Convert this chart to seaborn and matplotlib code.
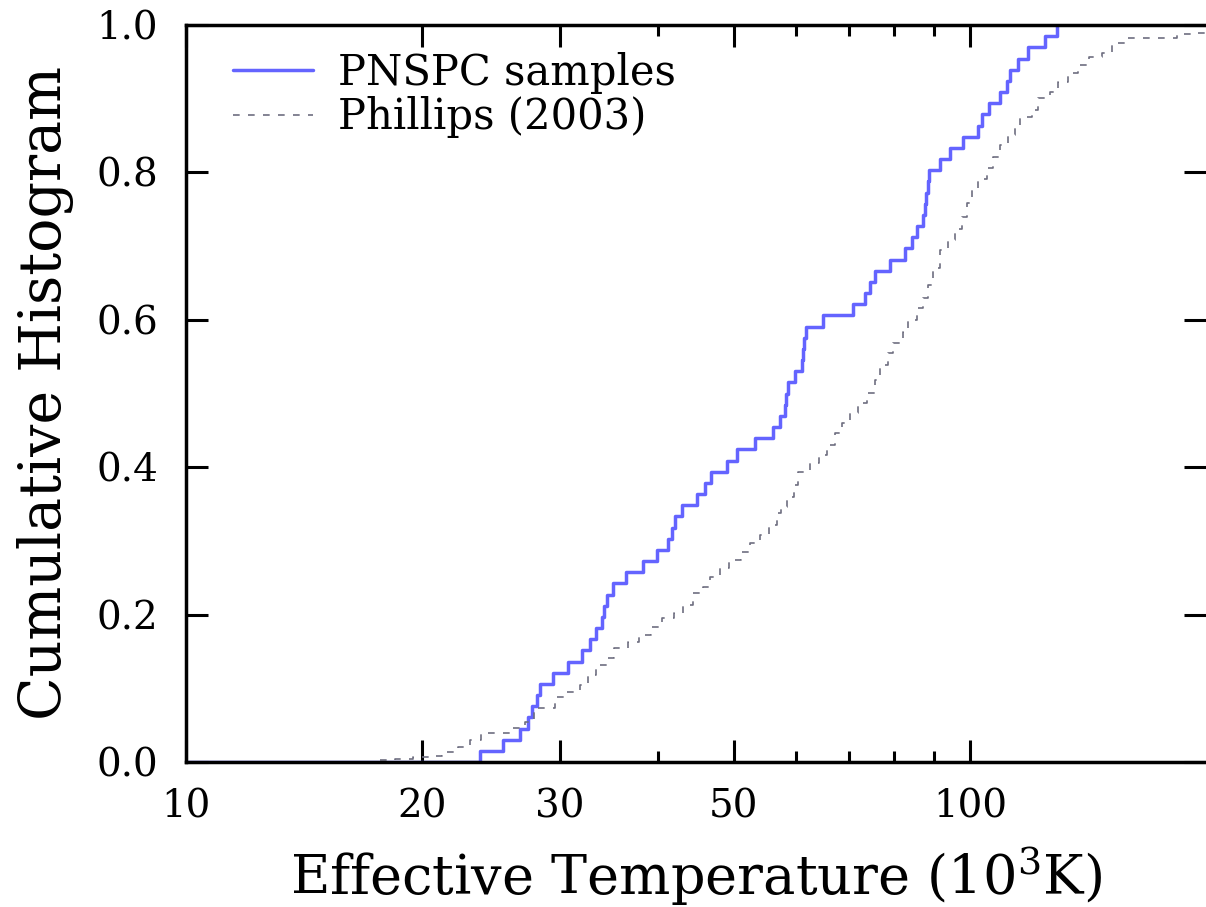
import numpy as np
import pandas as pd
import matplotlib
matplotlib.use("Agg")
import matplotlib.pyplot as plt
import matplotlib.ticker as mticker
import seaborn as sns

# PNSPC sample effective temperatures (10^3 K)
pnspc_temp = [23.7, 25.4, 26.7, 27.3, 27.6, 28.0, 28.3, 29.4, 30.7, 32.0,
              32.8, 33.3, 33.9, 34.1, 34.4, 35.0, 36.4, 38.3, 39.9, 41.2,
              41.7, 42.1, 42.9, 44.9, 45.9, 46.7, 49.0, 50.4, 53.2, 56.1,
              57.2, 58.1, 58.3, 58.6, 59.8, 61.1, 61.2, 61.4, 61.8, 64.9,
              70.9, 73.5, 74.5, 75.6, 79.1, 82.6, 84.3, 85.6, 87.1, 87.6,
              87.9, 88.4, 88.7, 91.6, 94.3, 98.0, 102.4, 103.6, 105.7, 109.2,
              111.5, 112.5, 115.1, 118.6, 124.6, 129.1]

# Phillips (2003) cumulative distribution
phillips_temp = [17.0, 17.5, 18.5, 19.5, 20.4, 21.2, 22.2, 23.0, 23.8, 26.1,
                 27.1, 27.8, 29.6, 30.6, 31.8, 32.6, 33.3, 34.4, 35.2, 36.6,
                 37.8, 39.2, 40.5, 41.9, 43.1, 44.3, 45.7, 46.6, 48.0, 49.3,
                 51.1, 52.4, 54.0, 55.4, 56.7, 57.4, 58.4, 59.6, 60.4, 62.5,
                 64.2, 65.7, 67.3, 68.7, 70.3, 72.0, 73.9, 75.7, 76.8, 78.6,
                 79.8, 82.1, 83.4, 85.6, 87.1, 88.4, 89.7, 91.6, 93.7, 95.7,
                 97.7, 99.1, 100.6, 102.4, 105.1, 107.0, 109.2, 111.8, 114.1, 115.8,
                 120.0, 122.1, 126.5, 129.5, 133.4, 137.3, 141.8, 147.3, 151.7, 158.6,
                 183.7, 192.5, 200.0]
phillips_frac = [0.000, 0.003, 0.004, 0.007, 0.008, 0.014, 0.020, 0.030, 0.039, 0.046,
                 0.054, 0.073, 0.088, 0.095, 0.104, 0.118, 0.132, 0.141, 0.155, 0.163,
                 0.172, 0.183, 0.195, 0.202, 0.213, 0.229, 0.237, 0.251, 0.263, 0.274,
                 0.285, 0.297, 0.308, 0.322, 0.338, 0.346, 0.360, 0.376, 0.393, 0.406,
                 0.417, 0.430, 0.446, 0.460, 0.474, 0.487, 0.501, 0.518, 0.539, 0.555,
                 0.569, 0.583, 0.600, 0.616, 0.630, 0.647, 0.670, 0.695, 0.708, 0.723,
                 0.739, 0.758, 0.776, 0.791, 0.806, 0.821, 0.837, 0.851, 0.860, 0.875,
                 0.885, 0.901, 0.909, 0.923, 0.935, 0.946, 0.957, 0.962, 0.976, 0.982,
                 0.988, 0.989, 0.989]

x_major = [10, 20, 30, 50, 100]
x_minor = [40, 60, 70, 80, 90]
y_ticks = [0.0, 0.2, 0.4, 0.6, 0.8, 1.0]

sns.set_style("ticks")
plt.rcParams["font.family"] = ["DejaVu Serif"]
plt.rcParams["mathtext.fontset"] = "dejavuserif"
for key in ["text.color", "axes.labelcolor", "xtick.color", "ytick.color", "axes.edgecolor"]:
    plt.rcParams[key] = "black"

fig = plt.figure(figsize=(12.06, 9.07), dpi=100)
ax = fig.add_axes([186 / 1206, 1 - 762 / 907, 1 - 186 / 1206, (762 - 25) / 907])

sns.ecdfplot(x=pnspc_temp, ax=ax, color="#6464ff", lw=2.5, label="PNSPC samples")
sns.lineplot(x=phillips_temp, y=phillips_frac, ax=ax, color="#6e6e80", lw=1.2,
             drawstyle="steps-post", linestyle=(0, (4, 5)), sort=False,
             label="Phillips (2003)")

ax.set_xscale("log")
ax.set_xlim(10, 200)
ax.set_ylim(0, 1.0)

ax.xaxis.set_major_locator(mticker.FixedLocator(x_major))
ax.xaxis.set_minor_locator(mticker.FixedLocator(x_minor))
ax.xaxis.set_major_formatter(mticker.FixedFormatter([str(v) for v in x_major]))
ax.xaxis.set_minor_formatter(mticker.NullFormatter())
ax.set_yticks(y_ticks)
ax.set_yticklabels([f"{v:.1f}" for v in y_ticks])

ax.tick_params(axis="both", which="major", direction="in", length=16, width=2.2,
               labelsize=28, top=True, right=True)
ax.tick_params(axis="x", which="major", pad=19)
ax.tick_params(axis="y", which="major", pad=20)
ax.tick_params(axis="x", which="minor", direction="in", length=8, width=2.2, top=True)
ax.tick_params(axis="y", which="minor", left=False, right=False)

for side in ["left", "bottom", "top"]:
    ax.spines[side].set_linewidth(2.5)
ax.spines["right"].set_visible(False)

ax.set_xlabel(r"Effective Temperature (10$^3$K)", fontsize=39, labelpad=14)
ax.set_ylabel("Cumulative Histogram", fontsize=41, labelpad=16)

ax.legend(loc="upper left", bbox_to_anchor=(0.02, 1.0), frameon=False, fontsize=30,
          handlelength=1.9, handletextpad=0.6, labelspacing=0.05, borderaxespad=0.25)

fig.savefig("out.png", dpi=100)
